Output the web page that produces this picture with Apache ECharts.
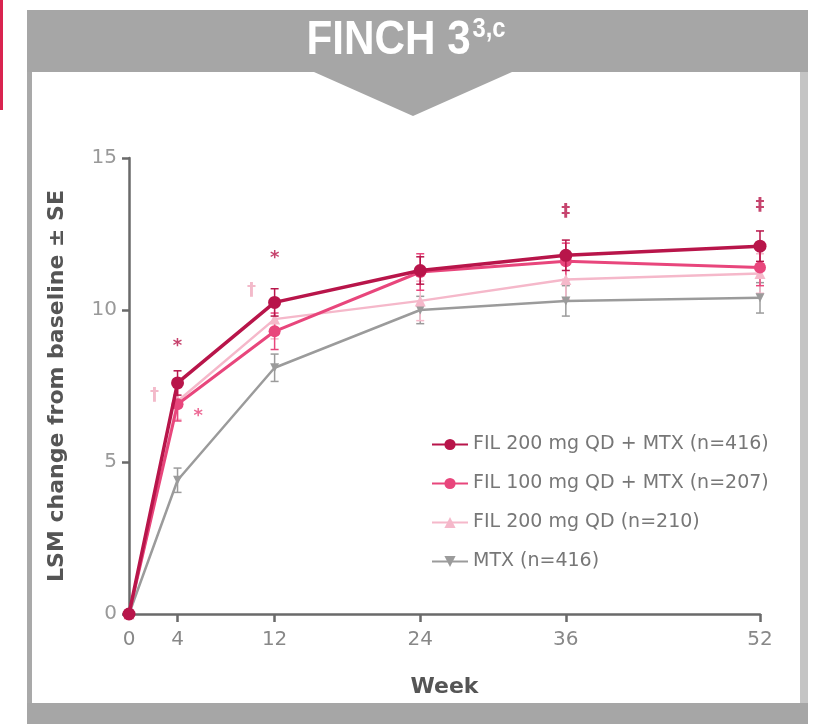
<!DOCTYPE html>
<html>
<head>
<meta charset="utf-8">
<script src="https://cdn.jsdelivr.net/npm/echarts@6/dist/echarts.min.js"></script>
<style>
html,body{margin:0;padding:0;background:#fff;}
#chart{width:813px;height:724px;}
</style>
</head>
<body>
<div id="chart"></div>
<script>
// ---- data ----
const weeks = [0, 4, 12, 24, 36, 52];
const xTickLabels = [0, 4, 12, 24, 36, 52];
const seriesNames = ['FIL 200 mg QD + MTX (n=416)', 'FIL 100 mg QD + MTX (n=207)', 'FIL 200 mg QD (n=210)', 'MTX (n=416)'];
const fil200mtx = [0, 7.6, 10.25, 11.3, 11.8, 12.1];
const fil100mtx = [0, 6.9, 9.3, 11.25, 11.6, 11.4];
const fil200 = [0, 7.0, 9.7, 10.3, 11.0, 11.2];
const mtx = [0, 4.4, 8.1, 10.0, 10.3, 10.4];
const fil200mtxSE = [0, 0.4, 0.45, 0.45, 0.5, 0.5];
const fil100mtxSE = [0, 0.55, 0.6, 0.6, 0.6, 0.6];
const fil200SE = [0, 0.6, 0.65, 0.65, 0.65, 0.65];
const mtxSE = [0, 0.4, 0.45, 0.45, 0.5, 0.5];
// significance annotations: [week, value, mark]
const sigFil200mtx = [[4, 8.8, '*'], [12, 11.7, '*'], [36, 13.25, '‡'], [52, 13.45, '‡']];
const sigFil100mtx = [[5.7, 6.5, '*']];
const sigFil200 = [[2.1, 7.2, '†'], [10.1, 10.65, '†']];

const colors = ['#b8154a', '#e8467c', '#f5b8ca', '#9b9b9b'];
const axisFont = 'DejaVu Sans';

function pts(vals){ return weeks.map((w,i)=>[w, vals[i]]); }
function errData(vals, se){ return weeks.map((w,i)=>[w, vals[i]-se[i], vals[i]+se[i]]).filter((d,i)=>se[i]>0); }

function errSeries(vals, se, color, z){
  return {
    type: 'custom', z: z, silent: true,
    data: errData(vals, se),
    renderItem: function(params, api){
      const x = api.value(0);
      const lo = api.coord([x, api.value(1)]);
      const hi = api.coord([x, api.value(2)]);
      const w = 4;
      return {
        type: 'group',
        children: [
          {type:'line', shape:{x1:lo[0], y1:lo[1], x2:hi[0], y2:hi[1]}, style:{stroke:color, lineWidth:1.5}},
          {type:'line', shape:{x1:lo[0]-w, y1:lo[1], x2:lo[0]+w, y2:lo[1]}, style:{stroke:color, lineWidth:1.5}},
          {type:'line', shape:{x1:hi[0]-w, y1:hi[1], x2:hi[0]+w, y2:hi[1]}, style:{stroke:color, lineWidth:1.5}}
        ]
      };
    }
  };
}
function sigSeries(arr, color){
  return {
    type: 'scatter', symbolSize: 0, z: 20, silent: true,
    data: arr.map(d=>({value:[d[0], d[1]], mark:d[2]})),
    label: {show:true, position:'inside', formatter: p => p.data.mark,
      color: color, fontSize: 18, fontWeight: 'bold', fontFamily: 'DejaVu Sans'}
  };
}

const chart = echarts.init(document.getElementById('chart'), null, {renderer:'canvas'});
chart.setOption({
  animation: false,
  backgroundColor: '#ffffff',
  graphic: [
    {type:'rect', shape:{x:27, y:10, width:5, height:700}, style:{fill:'#a9a9a9'}, z:-10},
    {type:'rect', shape:{x:800, y:10, width:8, height:700}, style:{fill:'#c4c4c4'}, z:-10},
    {type:'rect', shape:{x:27, y:703, width:781, height:21}, style:{fill:'#a6a6a6'}, z:-10},
    {type:'polygon', shape:{points:[[27,10],[808,10],[808,72],[512,72],[413,116],[314,72],[27,72]]}, style:{fill:'#a6a6a6'}, z:-5},
    {type:'rect', shape:{x:0, y:0, width:3, height:110}, style:{fill:'#d9234f'}, z:-5},
    {type:'text', x:406, y:41, scaleX:0.88, z:10,
      style:{text:'{a|FINCH 3}{s|3,c}', align:'center', verticalAlign:'middle',
        rich:{a:{fontSize:48, fontWeight:'bold', fill:'#ffffff', fontFamily:'Liberation Sans'},
              s:{fontSize:27, fontWeight:'bold', fill:'#ffffff', fontFamily:'Liberation Sans', verticalAlign:'top', padding:[0,0,22,2]}}}}
  ],
  grid: {left:129, right:53, top:158, bottom:110, containLabel:false},
  legend: {
    orient:'vertical', left:426, top:430, itemGap:20, itemWidth:36, itemHeight:14,
    data: seriesNames,
    textStyle:{fontSize:19, color:'#777', fontFamily:axisFont}
  },
  xAxis: {
    type:'value', min:0, max:52,
    name:'Week', nameLocation:'middle', nameGap:62,
    nameTextStyle:{fontSize:22, fontWeight:'bold', color:'#555', fontFamily:axisFont},
    axisLine:{show:true, lineStyle:{color:'#6a6a6a', width:2.5}},
    axisTick:{show:true, length:8, lineStyle:{color:'#6a6a6a', width:2.5}, customValues:[4,12,24,36,52]},
    axisLabel:{customValues:xTickLabels, margin:16, fontSize:20, color:'#888', fontFamily:axisFont},
    splitLine:{show:false}
  },
  yAxis: {
    type:'value', min:0, max:15, interval:5,
    name:'LSM change from baseline ± SE', nameLocation:'middle', nameGap:61,
    nameTextStyle:{fontSize:22, fontWeight:'bold', color:'#555', fontFamily:axisFont},
    axisLine:{show:true, lineStyle:{color:'#6a6a6a', width:2.5}},
    axisTick:{show:true, length:7, lineStyle:{color:'#6a6a6a', width:2.5}},
    axisLabel:{margin:12, fontSize:20, color:'#999', fontFamily:axisFont},
    splitLine:{show:false}
  },
  series: [
    {name:seriesNames[0], type:'line', data:pts(fil200mtx), z:8, color:colors[0],
      symbol:'circle', symbolSize:13, lineStyle:{width:3.5, color:colors[0]}, itemStyle:{color:colors[0]}},
    {name:seriesNames[1], type:'line', data:pts(fil100mtx), z:6, color:colors[1],
      symbol:'circle', symbolSize:12, lineStyle:{width:3, color:colors[1]}, itemStyle:{color:colors[1]}},
    {name:seriesNames[2], type:'line', data:pts(fil200), z:5, color:colors[2],
      symbol:'triangle', symbolSize:11, lineStyle:{width:2.5, color:colors[2]}, itemStyle:{color:colors[2]}},
    {name:seriesNames[3], type:'line', data:pts(mtx), z:4, color:colors[3],
      symbol:'triangle', symbolRotate:180, symbolSize:9, lineStyle:{width:2.5, color:colors[3]}, itemStyle:{color:colors[3]}},
    errSeries(fil200mtx, fil200mtxSE, colors[0], 7),
    errSeries(fil100mtx, fil100mtxSE, colors[1], 5),
    errSeries(fil200, fil200SE, colors[2], 4),
    errSeries(mtx, mtxSE, colors[3], 3),
    sigSeries(sigFil200mtx, colors[0]),
    sigSeries(sigFil100mtx, colors[1]),
    sigSeries(sigFil200, '#f0a9bd')
  ]
});
</script>
</body>
</html>
